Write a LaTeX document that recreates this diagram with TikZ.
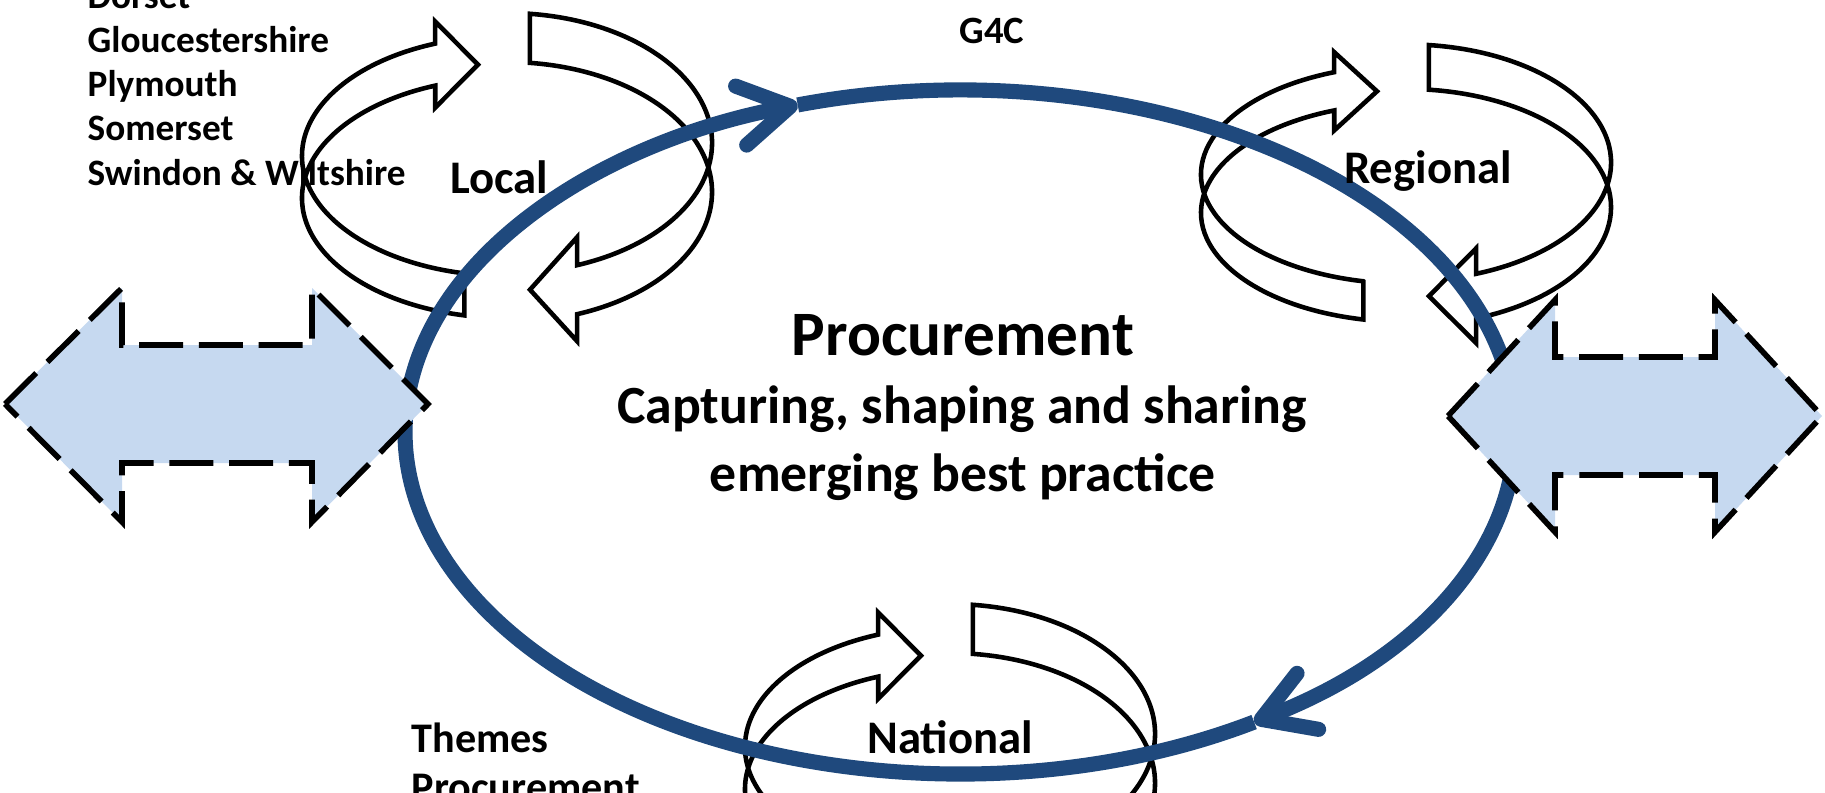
\documentclass[tikz,border=0pt]{standalone}
\usepackage{fontspec}
\setmainfont{Carlito}
\usetikzlibrary{arrows.meta,calc}
\definecolor{cLoop}{HTML}{1F497D}
\definecolor{cShare}{HTML}{C6D9F0}

\begin{document}
\begin{tikzpicture}[
  x=0.1mm,y=-0.1mm,
  font=\bfseries,
  ring/.style={draw=black,fill=white,line width=1.3pt,line join=miter},
  share/.style={draw=black,fill=cShare,line width=1.6pt,dash pattern=on 12.5pt off 4.5pt},
  loop/.style={draw=cLoop,line width=4.3pt},
  looptip/.style={-{Straight Barb[length=5mm,width=6mm,round]}},
  lvl/.style={inner sep=0pt,anchor=base,font=\bfseries\fontsize{13.3}{16}\selectfont},
  lst/.style={inner sep=0pt,anchor=base west,align=left},
  core/.style={inner sep=0pt,anchor=base},
]
\useasboundingbox (0,0) rectangle (1825,793);
\clip (0,0) rectangle (1825,793);

% member lists (anchored on their last line)
\node[lst,font=\bfseries\fontsize{10.6}{12.55}\selectfont] (areas) at (87,185)
  {Dorset\\ Gloucestershire\\ Plymouth\\ Somerset\\ Swindon \& Wiltshire};
\node[lst,font=\bfseries\fontsize{12}{13.9}\selectfont] (themes) at (411,801)
  {Themes\\ Procurement};
\node[inner sep=0pt,font=\bfseries\fontsize{11}{13}\selectfont] (g4c) at (992,31) {G4C};

% the three cycles
\foreach \cx/\cy/\sy in {507/139/1, 1406/159/0.91, 950/730/1}{
  \begin{scope}[shift={(\cx,\cy)},yscale=\sy]
    \draw[ring] (-42.6,134.4) -- (-42.6,176.4)
      arc[start angle=102,end angle=249.5,x radius=205,y radius=120]
      -- (-71.8,-31.4) -- (-29,-74.4) -- (-71.8,-117.4) -- (-71.8,-95.4)
      arc[start angle=249.5,end angle=102,x radius=205,y radius=120] -- cycle;
    \draw[ring] (22.9,-125.2)
      arc[start angle=-83.6,end angle=70,x radius=205,y radius=130]
      -- (70.1,98.2) -- (23,150.7) -- (70.1,202.2) -- (70.1,175.2)
      arc[start angle=70,end angle=-83.6,x radius=205,y radius=130] -- cycle;
  \end{scope}
}

% procurement loop
\coordinate (mid) at (960,432);
\draw[loop,looptip] ($(mid)+(253:555 and 342)$)
  arc[start angle=253,end angle=418,x radius=555,y radius=342];
\draw[loop,looptip] ($(mid)+(58:555 and 342)$)
  arc[start angle=58,end angle=253,x radius=555,y radius=342];

% sharing arrows
\draw[share] (5,404) -- (122,288) -- (122,345) -- (312,345) -- (312,288) -- (428,404)
  -- (312,522) -- (312,463) -- (122,463) -- (122,522) -- cycle;
\draw[share] (1448,416) -- (1555,300) -- (1555,357) -- (1715,357) -- (1715,300) -- (1822,416)
  -- (1715,532) -- (1715,475) -- (1555,475) -- (1555,532) -- cycle;

% labels
\node[lvl] (local) at (499,193) {Local};
\node[lvl] (regional) at (1428,183) {Regional};
\node[lvl] (national) at (950,753) {National};

\node[core,font=\bfseries\fontsize{18}{21}\selectfont] (title) at (963,355) {Procurement};
\node[core,font=\bfseries\fontsize{15.3}{18}\selectfont] (sub1) at (962,423) {Capturing, shaping and sharing};
\node[core,font=\bfseries\fontsize{15.3}{18}\selectfont] (sub2) at (963,491) {emerging best practice};
\end{tikzpicture}
\end{document}
